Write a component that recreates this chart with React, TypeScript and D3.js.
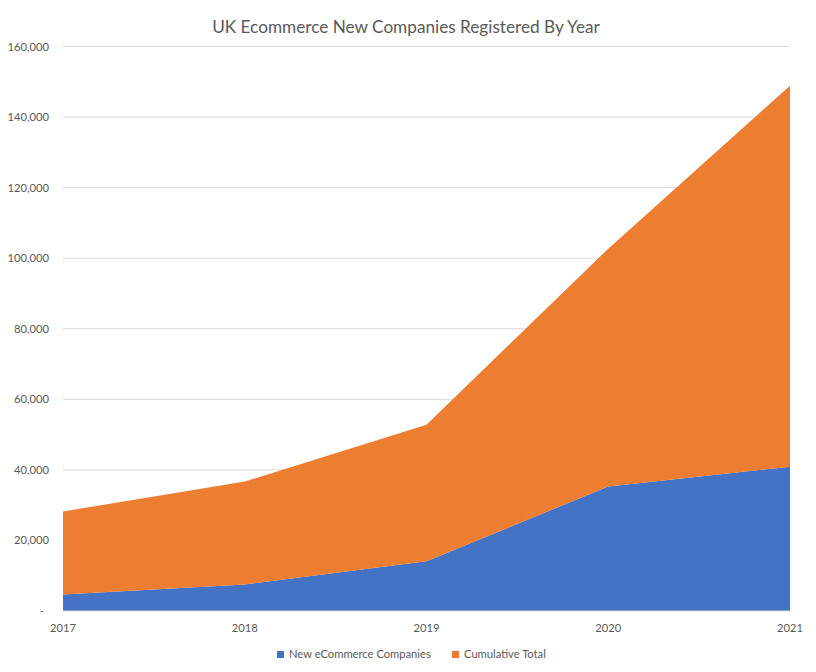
import * as d3 from "d3";

const years = ["2017", "2018", "2019", "2020", "2021"];
const newCompanies = [4700, 7500, 14100, 35300, 40900];
const cumulativeTotal = [23500, 29200, 38700, 67400, 108000];
const yTicks = [0, 20000, 40000, 60000, 80000, 100000, 120000, 140000, 160000];
const seriesNames = ["New eCommerce Companies", "Cumulative Total"];
const colors = ["#4472C4", "#ED7D31"];

const width = 816;
const height = 672;
const margin = { top: 46.5, right: 26, bottom: 61, left: 63 };
const font = "Lato, 'Open Sans', sans-serif";

type Row = { year: string; a: number; b: number };

const App = () => {
  const rows: Row[] = years.map((year, i) => ({
    year,
    a: newCompanies[i],
    b: cumulativeTotal[i],
  }));

  const x = d3
    .scalePoint<string>()
    .domain(years)
    .range([margin.left, width - margin.right]);

  const y = d3
    .scaleLinear()
    .domain([0, 160000])
    .range([height - margin.bottom, margin.top]);

  const stacked = d3.stack<Row>().keys(["a", "b"])(rows);

  const area = d3
    .area<d3.SeriesPoint<Row>>()
    .x((d) => x(d.data.year) ?? 0)
    .y0((d) => y(d[0]))
    .y1((d) => y(d[1]));

  const fmt = d3.format(",");

  return (
    <svg
      width={width}
      height={height}
      style={{ position: "absolute", left: 0, top: 0, background: "#fff" }}
    >
      <text
        x={406}
        y={33}
        textAnchor="middle"
        fontFamily={font}
        fontSize={17.2}
        fill="#595959"
      >
        UK Ecommerce New Companies Registered By Year
      </text>

      <g>
        {yTicks.map((t) => (
          <g key={t}>
            {t > 0 && (
              <line
                x1={margin.left}
                x2={width - margin.right}
                y1={y(t)}
                y2={y(t)}
                stroke="#d9d9d9"
                strokeWidth={1}
              />
            )}
            <text
              x={t === 0 ? 44 : 49}
              y={y(t) + 4}
              textAnchor="end"
              fontFamily={font}
              fontSize={11.2}
              fill="#595959"
            >
              {t === 0 ? "-" : fmt(t)}
            </text>
          </g>
        ))}
      </g>

      {stacked.map((s, i) => (
        <path key={s.key} d={area(s) ?? ""} fill={colors[i]} />
      ))}

      <line
        x1={margin.left}
        x2={width - margin.right}
        y1={y(0)}
        y2={y(0)}
        stroke="#d9d9d9"
        strokeWidth={1}
      />

      {years.map((yr) => (
        <text
          key={yr}
          x={x(yr)}
          y={632}
          textAnchor="middle"
          fontFamily={font}
          fontSize={11.2}
          fill="#595959"
        >
          {yr}
        </text>
      ))}

      <g>
        {seriesNames.map((name, i) => {
          const lx = i === 0 ? 277 : 452;
          return (
            <g key={name}>
              <rect x={lx} y={651} width={7} height={7} fill={colors[i]} />
              <text
                x={lx + 12}
                y={658}
                fontFamily={font}
                fontSize={11.2}
                fill="#595959"
              >
                {name}
              </text>
            </g>
          );
        })}
      </g>
    </svg>
  );
};

export default App;
